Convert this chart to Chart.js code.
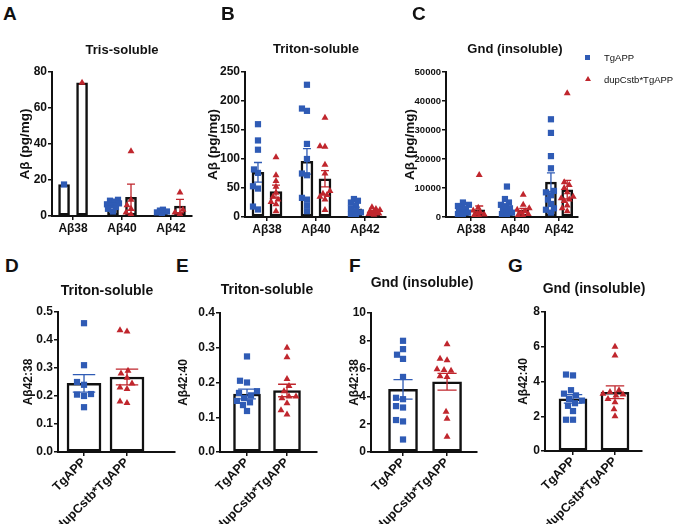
<!DOCTYPE html>
<html>
<head>
<meta charset="utf-8">
<script src="https://cdn.jsdelivr.net/npm/chart.js@4"></script>
<style>
  body { margin: 0; background: #fff; }
  #fig { position: relative; width: 680px; height: 524px; overflow: hidden; font-family: "Liberation Sans", Arial, sans-serif; color: #111; }
  #fig canvas { position: absolute; }
  .lt { position: absolute; font-weight: bold; font-size: 19px; }
  .tt { position: absolute; font-weight: bold; transform: translate(-50%, -50%); white-space: nowrap; }
  .lg { position: absolute; font-size: 9.5px; transform: translateY(-50%); white-space: nowrap; }
</style>
</head>
<body>
<div id="fig"></div>
<script>
// ---- data ----
const fractions = ['Aβ38', 'Aβ40', 'Aβ42'];
const genotypes = ['TgAPP', 'dupCstb*TgAPP'];

// A: Tris-soluble (pg/mg)
const trisTgMean = [17.5, 6.2, 2.5];
const trisTgSem = [0, 0.8, 0.4];
const trisDupMean = [74, 10.4, 5.5];
const trisDupSem = [0, 7.3, 3.7];
const trisTgPts = [[17.5], [9, 8.5, 8, 7, 6.5, 6, 5, 4, 2.5], [3.5, 3, 2.5, 2, 1.5]];
const trisDupPts = [[74], [36, 9, 6, 4, 2, 1], [13, 3.5, 2, 1]];

// B: Triton-soluble (pg/mg)
const tritonTgMean = [77, 96, 14];
const tritonTgSem = [17, 22, 3];
const tritonDupMean = [44, 66, 9.5];
const tritonDupSem = [11, 14, 1.2];
const tritonTgPts = [[160, 132, 116, 82, 76, 53, 49, 18, 13], [228, 187, 183, 126, 100, 75, 72, 33, 30, 20, 10], [31, 28, 25, 20, 15, 10, 8, 5, 3]];
const tritonDupPts = [[103, 72, 62, 52, 42, 35, 30, 26, 22, 10], [171, 122, 121, 90, 75, 45, 40, 38, 35, 30, 12], [17, 14, 12, 10, 9, 8, 7, 6, 5, 4]];

// C: Gnd insoluble (pg/mg)
const gndTgMean = [2500, 3600, 12000];
const gndTgSem = [400, 900, 3200];
const gndDupMean = [2500, 2300, 9400];
const gndDupSem = [1300, 700, 3200];
const gndTgPts = [[5000, 4200, 3800, 3300, 2800, 2400, 2000, 1500, 1000, 600], [10500, 6200, 5000, 4200, 3600, 3000, 2500, 2000, 1500, 1000, 600], [33700, 29000, 21000, 16800, 9000, 8500, 7500, 6000, 4500, 3000, 2500, 1500]];
const gndDupPts = [[14500, 3200, 2200, 1600, 1200, 900, 600, 300], [7700, 4200, 3000, 2500, 2000, 1500, 1000, 700, 400], [42700, 12000, 11000, 10000, 8500, 7000, 6500, 6000, 5500, 4000, 3000, 2000]];

// D-G: ratios, [TgAPP, dupCstb*TgAPP]
const ratioDMean = [0.245, 0.268];
const ratioDSem = [0.031, 0.028];
const ratioDPts = [[0.46, 0.31, 0.25, 0.24, 0.207, 0.205, 0.2, 0.16], [0.435, 0.43, 0.29, 0.28, 0.265, 0.245, 0.23, 0.225, 0.18, 0.175]];
const ratioEMean = [0.167, 0.177];
const ratioESem = [0.014, 0.018];
const ratioEPts = [[0.275, 0.205, 0.2, 0.175, 0.17, 0.163, 0.155, 0.147, 0.143, 0.135, 0.118], [0.3, 0.273, 0.21, 0.19, 0.175, 0.16, 0.16, 0.155, 0.14, 0.12, 0.108]];
const ratioFMean = [4.5, 5.05];
const ratioFSem = [0.7, 0.6];
const ratioFPts = [[8.0, 7.4, 7.0, 6.7, 5.4, 3.9, 3.8, 3.3, 3.2, 2.3, 2.2, 0.9], [7.75, 6.7, 6.6, 5.95, 5.9, 5.85, 5.45, 5.4, 2.9, 2.4, 1.1]];
const ratioGMean = [3.0, 3.38];
const ratioGSem = [0.25, 0.37];
const ratioGPts = [[4.4, 4.35, 3.5, 3.3, 3.2, 3.0, 2.9, 2.75, 2.6, 2.3, 1.8, 1.8], [6.0, 5.5, 3.5, 3.4, 3.3, 3.25, 3.2, 3.0, 2.8, 2.4, 2.0]];

// ---- drawing ----
const BLUE = '#2f5bb5';
const RED = '#c0262d';
const fig = document.getElementById('fig');

Chart.defaults.font.family = '"Liberation Sans", Arial, sans-serif';
Chart.defaults.font.weight = 'bold';
Chart.defaults.font.size = 11;
Chart.defaults.color = '#111';

// SEM whiskers on top of the bars
const errorBars = {
  id: 'errorBars',
  afterDatasetsDraw(chart) {
    const ctx = chart.ctx;
    const y = chart.scales.y;
    chart.data.datasets.forEach((ds, di) => {
      if (!ds.sem) return;
      chart.getDatasetMeta(di).data.forEach((bar, i) => {
        const s = ds.sem[i];
        if (!s || ds.data[i].y == null) return;
        const m = ds.data[i].y;
        const hi = y.getPixelForValue(m + s);
        const lo = y.getPixelForValue(Math.max(m - s, 0));
        const cap = Math.max(bar.width * 0.33, 4);
        ctx.save();
        ctx.strokeStyle = ds.errColor;
        ctx.lineWidth = 1.3;
        ctx.beginPath();
        ctx.moveTo(bar.x, hi); ctx.lineTo(bar.x, lo);
        ctx.moveTo(bar.x - cap, hi); ctx.lineTo(bar.x + cap, hi);
        ctx.moveTo(bar.x - cap, lo); ctx.lineTo(bar.x + cap, lo);
        ctx.stroke();
        ctx.restore();
      });
    });
  }
};

// beeswarm-ish scatter: nudge points sideways (within +-maxOff px) so they overlap less
function swarm(values, center, pxX, pxY, gap, maxOff) {
  const placed = [];
  const xs = [];
  const cands = [0];
  for (let k = 1; k <= maxOff; k++) cands.push(-k, k);
  values.map((v, i) => i).sort((a, b) => values[a] - values[b]).forEach(i => {
    const py = values[i] * pxY;
    let best = 0, bestD = -1;
    for (const off of cands) {
      const d = placed.reduce((m, p) => Math.min(m, Math.hypot(p.x - off, p.y - py)), Infinity);
      if (d >= gap) { best = off; break; }
      if (d > bestD + 0.5) { bestD = d; best = off; }
    }
    placed.push({ x: best, y: py });
    xs[i] = center + best / pxX;
  });
  return xs;
}

function text(cls, str, x, y, size) {
  const d = document.createElement('div');
  d.className = cls;
  d.textContent = str;
  d.style.left = x + 'px';
  d.style.top = y + 'px';
  if (size) d.style.fontSize = size + 'px';
  fig.appendChild(d);
}

function panel(o) {
  const [cx, cy, cw, ch] = o.canvas;
  const [l, t, r, b] = o.plot;
  const cv = document.createElement('canvas');
  cv.width = cw; cv.height = ch;
  cv.style.left = cx + 'px'; cv.style.top = cy + 'px';
  fig.appendChild(cv);

  const pxX = (r - l) / (o.xMax - o.xMin);
  const pxY = (b - t) / o.yMax;
  const colors = [BLUE, RED];
  const styles = ['rect', 'triangle'];
  const datasets = [];

  o.means.forEach((mean, g) => {
    datasets.push({
      type: 'bar',
      order: 2,
      data: mean.map((v, i) => ({ x: i + o.shift[g], y: v })),
      sem: o.sems[g],
      errColor: colors[g],
      backgroundColor: '#fff',
      borderColor: '#111',
      borderWidth: 2.5,
      borderSkipped: false,
      barThickness: o.barW,
      grouped: false
    });
  });
  o.points.forEach((groups, g) => {
    const pts = [];
    groups.forEach((vals, i) => {
      const xs = swarm(vals, i + o.shift[g], pxX, pxY, o.gap, o.spread);
      vals.forEach((v, k) => pts.push({ x: xs[k], y: v }));
    });
    datasets.push({
      type: 'scatter',
      order: 1,
      data: pts,
      pointStyle: styles[g],
      pointRadius: g ? 4 : 4.4,
      backgroundColor: colors[g],
      borderColor: colors[g],
      borderWidth: 0
    });
  });

  new Chart(cv, {
    data: { datasets },
    options: {
      responsive: false,
      animation: false,
      layout: { padding: { left: 0, top: t - cy, right: cx + cw - r, bottom: 0 } },
      plugins: { legend: { display: false }, tooltip: { enabled: false } },
      scales: {
        x: {
          type: 'linear',
          min: o.xMin, max: o.xMax,
          offset: false,
          afterBuildTicks: s => { s.ticks = o.labels.map((_, i) => ({ value: i })); },
          afterFit: s => { s.height = cy + ch - b; },
          ticks: {
            callback: v => o.labels[Math.round(v)],
            autoSkip: false,
            minRotation: o.rot, maxRotation: o.rot,
            padding: o.catPad,
            font: { size: o.catSize }
          },
          grid: { offset: false, drawOnChartArea: false, color: '#111', lineWidth: 1.5, tickLength: 4 },
          border: { color: '#111', width: 2 }
        },
        y: {
          min: 0, max: o.yMax,
          afterFit: s => { s.width = l - cx; },
          ticks: {
            stepSize: o.yStep,
            padding: 1,
            font: { size: o.tickSize },
            callback: v => o.dec ? v.toFixed(o.dec) : String(v)
          },
          grid: { drawOnChartArea: false, color: '#111', lineWidth: 1.5, tickLength: 4 },
          border: { color: '#111', width: 2 },
          title: { display: true, text: o.yTitle, font: { size: o.titleSize }, padding: { top: o.titlePad, bottom: 0 } }
        }
      }
    },
    plugins: [errorBars]
  });
}

// one bar per genotype in the ratio panels: TgAPP at x=0, dupCstb at x=1
function pair(mean, sem, pts) {
  return {
    means: [[mean[0], null], [null, mean[1]]],
    sems: [[sem[0], 0], [0, sem[1]]],
    points: [[pts[0], []], [[], pts[1]]]
  };
}

const topRow = { labels: fractions, rot: 0, barW: 11, gap: 5, spread: 6, catSize: 12, catPad: 1, tickSize: 12, titleSize: 13.5, yTitle: 'Aβ (pg/mg)' };
panel(Object.assign({}, topRow, {
  canvas: [0, 40, 205, 205], plot: [52, 72, 192, 216],
  xMin: -0.43, xMax: 2.43, shift: [-0.184, 0.184], yMax: 80, yStep: 20, titlePad: 16.9,
  means: [trisTgMean, trisDupMean], sems: [trisTgSem, trisDupSem], points: [trisTgPts, trisDupPts]
}));
panel(Object.assign({}, topRow, {
  canvas: [203, 40, 237, 205], plot: [245, 72, 386, 217], barW: 12,
  xMin: -0.449, xMax: 2.43, shift: [-0.184, 0.184], yMax: 250, yStep: 50, titlePad: 1.9,
  means: [tritonTgMean, tritonDupMean], sems: [tritonTgSem, tritonDupSem], points: [tritonTgPts, tritonDupPts]
}));
panel(Object.assign({}, topRow, {
  canvas: [400, 40, 190, 205], plot: [446, 72, 578, 217],
  xMin: -0.57, xMax: 2.43, shift: [-0.185, 0.185], yMax: 50000, yStep: 10000, tickSize: 9.5, titlePad: 1.9,
  means: [gndTgMean, gndDupMean], sems: [gndTgSem, gndDupSem], points: [gndTgPts, gndDupPts]
}));

const bottomRow = { labels: genotypes, rot: 45, gap: 7, spread: 12, shift: [0, 0], catSize: 12.5, catPad: -1, tickSize: 12, titleSize: 12 };
panel(Object.assign({}, bottomRow, pair(ratioDMean, ratioDSem, ratioDPts), {
  canvas: [0, 290, 185, 234], plot: [58, 312, 175, 452], barW: 34,
  xMin: -0.605, xMax: 2.116, yMax: 0.5, yStep: 0.1, dec: 1,
  yTitle: 'Aβ42:38', titlePad: 21
}));
panel(Object.assign({}, bottomRow, pair(ratioEMean, ratioESem, ratioEPts), {
  canvas: [170, 290, 160, 234], plot: [220, 313, 317, 452], barW: 27,
  xMin: -0.675, xMax: 1.75, yMax: 0.4, yStep: 0.1, dec: 1,
  yTitle: 'Aβ42:40', titlePad: 6
}));
panel(Object.assign({}, bottomRow, pair(ratioFMean, ratioFSem, ratioFPts), {
  canvas: [335, 290, 155, 234], plot: [371, 313, 477, 452], barW: 29,
  xMin: -0.727, xMax: 1.68, yMax: 10, yStep: 2,
  yTitle: 'Aβ42:38', titlePad: 12
}));
panel(Object.assign({}, bottomRow, pair(ratioGMean, ratioGSem, ratioGPts), {
  canvas: [500, 290, 180, 234], plot: [545, 312, 642, 451], barW: 28,
  xMin: -0.667, xMax: 1.643, yMax: 8, yStep: 2,
  yTitle: 'Aβ42:40', titlePad: 16
}));

// panel letters and titles
[['A', 3, 3], ['B', 221, 3], ['C', 412, 3], ['D', 5, 255], ['E', 176, 255], ['F', 349, 255], ['G', 508, 255]]
  .forEach(([s, x, y]) => text('lt', s, x, y));
[['Tris-soluble', 122, 49, 13], ['Triton-soluble', 316, 48, 13], ['Gnd (insoluble)', 515, 48, 13],
 ['Triton-soluble', 107, 290, 14], ['Triton-soluble', 267, 289, 14], ['Gnd (insoluble)', 422, 282, 14], ['Gnd (insoluble)', 594, 288, 14]]
  .forEach(([s, x, y, f]) => text('tt', s, x, y, f));

// legend
const sq = document.createElement('div');
sq.style.cssText = `position:absolute;left:585px;top:55px;width:5px;height:5px;background:${BLUE}`;
fig.appendChild(sq);
const tri = document.createElement('div');
tri.style.cssText = `position:absolute;left:584.5px;top:76px;width:0;height:0;border-left:3px solid transparent;border-right:3px solid transparent;border-bottom:5px solid ${RED}`;
fig.appendChild(tri);
text('lg', genotypes[0], 604, 57);
text('lg', genotypes[1], 604, 79);
</script>
</body>
</html>
